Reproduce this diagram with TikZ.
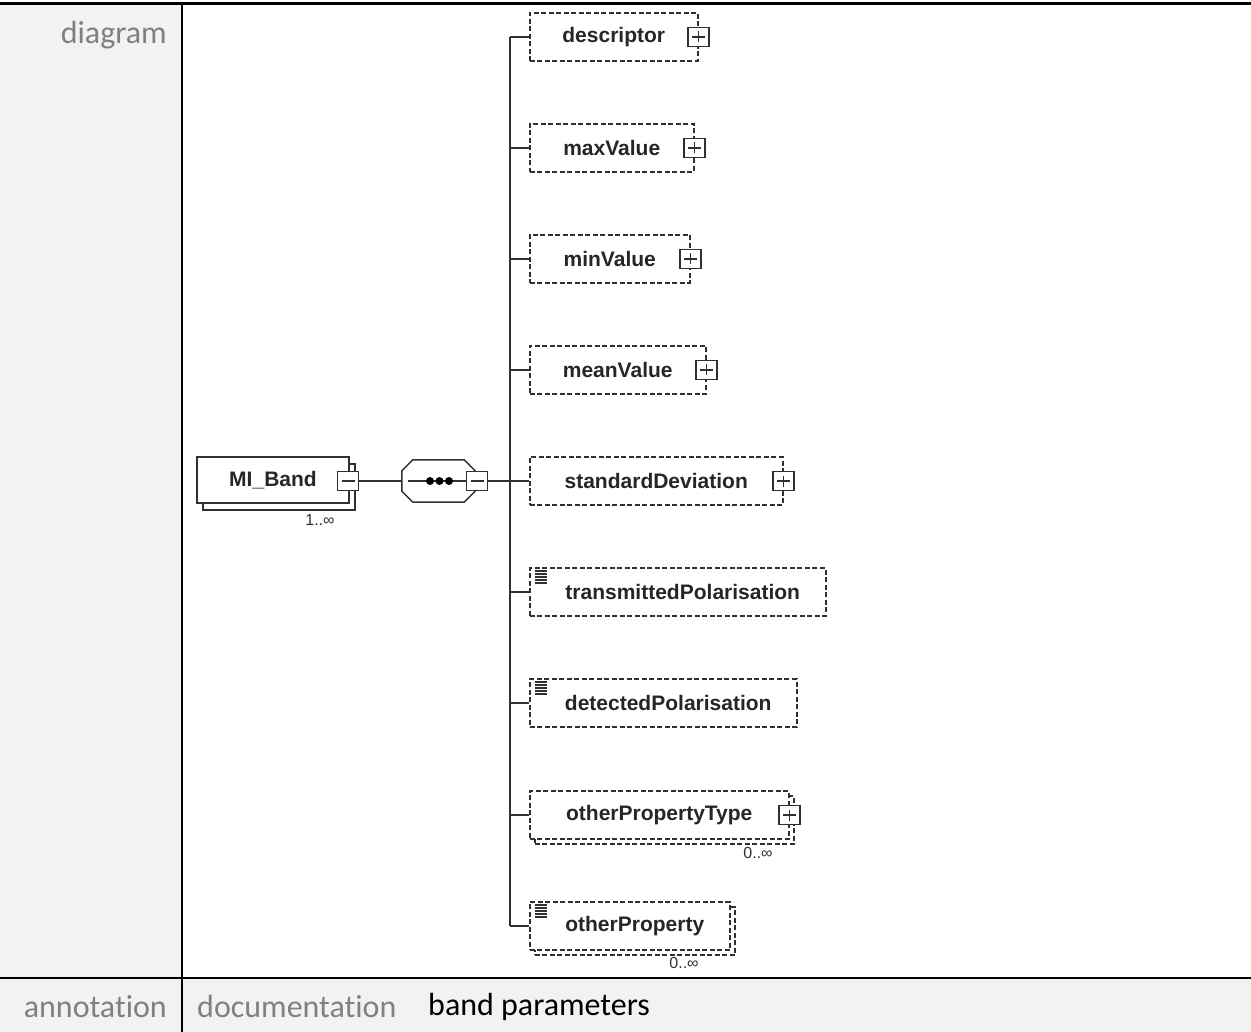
\documentclass[tikz,border=0pt]{standalone}
\usepackage{fontspec}
\setmainfont{Carlito}[Ligatures=CommonOff]
\newfontfamily\xsdfont{Liberation Sans}
\usetikzlibrary{positioning,calc}
\definecolor{cellgray}{HTML}{F2F2F2}
\definecolor{labelgray}{HTML}{808080}
\definecolor{xsdline}{HTML}{303030}

\begin{document}
\begin{tikzpicture}[x=1pt, y=-1pt,
  elem/.style={draw=xsdline, line width=1.5pt, dash pattern=on 5pt off 2.5pt, fill=white, minimum height=48pt, inner sep=0pt, anchor=west, text=black!85, font=\xsdfont\bfseries\fontsize{21}{21}\selectfont},
  ctrl/.style={draw=xsdline, solid, line width=1.4pt, fill=white, minimum width=21pt, minimum height=19pt, inner sep=0pt},
  plusbox/.style={ctrl, path picture={
    \draw[solid, line width=1.4pt] ($(path picture bounding box.west)+(4,0)$) -- ($(path picture bounding box.east)+(-4,0)$);
    \draw[solid, line width=1.4pt] ($(path picture bounding box.north)+(0,4)$) -- ($(path picture bounding box.south)+(0,-4)$);}},
  minusbox/.style={ctrl, path picture={
    \draw[solid, line width=1.4pt] ($(path picture bounding box.west)+(4,0)$) -- ($(path picture bounding box.east)+(-4,0)$);}},
  docicon/.style={path picture={
    \foreach \k in {0,...,4}
      \draw[solid, line width=1.7pt, xsdline] ($(path picture bounding box.north west)+(5,3+3*\k)$) -- ++(12,0);}},
  mult/.style={font=\xsdfont\fontsize{16}{16}\selectfont, text=xsdline, inner sep=0pt},
  rowlabel/.style={font=\fontsize{32}{32}\selectfont, text=labelgray, inner sep=0pt},
  conn/.style={draw=xsdline, line width=1.5pt}]
\useasboundingbox (0,0) rectangle (1251,1032);

% table
\fill[cellgray] (0,4) rectangle (182,978);
\fill[cellgray] (0,978) rectangle (1251,1032);
\draw[line width=3pt] (0,4) -- (1251,4);
\draw[line width=2.5pt] (0,978) -- (1251,978);
\draw[line width=2.5pt] (182,4) -- (182,1032);
\node[rowlabel, anchor=east] (diagram) at (167,35) {diagram};
\node[rowlabel, anchor=east] (annotation) at (167,1007) {annotation};
\node[rowlabel, anchor=west] (documentation) at (197,1007) {documentation};
\node[rowlabel, anchor=west, text=black] (bandparams) at (428,1007) {band parameters};

% root element
\node[draw=xsdline, line width=1.5pt, fill=white, minimum width=152pt, minimum height=46pt] (MI_Band-shadow) at (279,487) {};
\node[draw=xsdline, line width=1.5pt, fill=white, minimum width=152pt, minimum height=46pt, text=black!85, font=\xsdfont\bfseries\fontsize{21}{21}\selectfont] (MI_Band) at (273,480) {MI\_Band};
\node[minusbox] (MI_Band-minus) at (348,481) {};
\node[mult] (MI_Band-mult) at (320,520) {1..∞};

% sequence
\node[minimum width=73pt, minimum height=42pt, inner sep=0pt] (seq) at (438.5,481) {};
\draw[conn, fill=white] ($(seq.north west)+(11,0)$) -- ($(seq.north east)+(-11,0)$) -- ($(seq.north east)+(0,11)$) -- ($(seq.south east)+(0,-11)$) -- ($(seq.south east)+(-11,0)$) -- ($(seq.south west)+(11,0)$) -- ($(seq.south west)+(0,-11)$) -- ($(seq.north west)+(0,11)$) -- cycle;
\node[minusbox] (seq-minus) at (477,481) {};
\draw[conn] ($(seq.west)+(6,0)$) -- (seq-minus.west);
\foreach \dx in {430,439.5,449}
  \fill[black] (\dx,481) circle (4);
\coordinate (spine) at (510,0);

% children
\node[elem, minimum width=168pt] (descriptor) at (529,37) {descriptor};
\node[plusbox] (descriptor-plus) at (descriptor.east) {};
\node[elem, minimum width=164pt] (maxValue) at (529,148) {maxValue};
\node[plusbox] (maxValue-plus) at (maxValue.east) {};
\node[elem, minimum width=160pt] (minValue) at (529,259) {minValue};
\node[plusbox] (minValue-plus) at (minValue.east) {};
\node[elem, minimum width=176pt] (meanValue) at (529,370) {meanValue};
\node[plusbox] (meanValue-plus) at (meanValue.east) {};
\node[elem, minimum width=253pt] (standardDeviation) at (529,481) {standardDeviation};
\node[plusbox] (standardDeviation-plus) at (standardDeviation.east) {};
\node[elem, docicon, minimum width=296pt] (transmittedPolarisation) at (529,592) {\hspace*{10pt}transmittedPolarisation};
\node[elem, docicon, minimum width=267pt] (detectedPolarisation) at (529,703) {\hspace*{10pt}detectedPolarisation};
\node[elem, minimum width=259pt] (otherPropertyType-shadow) at (534,820) {};
\node[elem, minimum width=259pt] (otherPropertyType) at (529,815) {otherPropertyType};
\node[plusbox] (otherPropertyType-plus) at (otherPropertyType.east) {};
\node[mult] (otherPropertyType-mult) at (758,853) {0..∞};
\node[elem, minimum width=200pt] (otherProperty-shadow) at (534,931) {};
\node[elem, docicon, minimum width=200pt] (otherProperty) at (529,926) {\hspace*{10pt}otherProperty};
\node[mult] (otherProperty-mult) at (684,963) {0..∞};

% connectors
\draw[conn] (MI_Band-minus.east) -- (seq.west);
\draw[conn] (seq-minus.east) -- (seq-minus.east -| spine);
\draw[conn] (descriptor.west -| spine) -- (otherProperty.west -| spine);
\draw[conn] (descriptor.west) -- (descriptor.west -| spine);
\draw[conn] (maxValue.west) -- (maxValue.west -| spine);
\draw[conn] (minValue.west) -- (minValue.west -| spine);
\draw[conn] (meanValue.west) -- (meanValue.west -| spine);
\draw[conn] (standardDeviation.west) -- (standardDeviation.west -| spine);
\draw[conn] (transmittedPolarisation.west) -- (transmittedPolarisation.west -| spine);
\draw[conn] (detectedPolarisation.west) -- (detectedPolarisation.west -| spine);
\draw[conn] (otherPropertyType.west) -- (otherPropertyType.west -| spine);
\draw[conn] (otherProperty.west) -- (otherProperty.west -| spine);
\end{tikzpicture}
\end{document}
